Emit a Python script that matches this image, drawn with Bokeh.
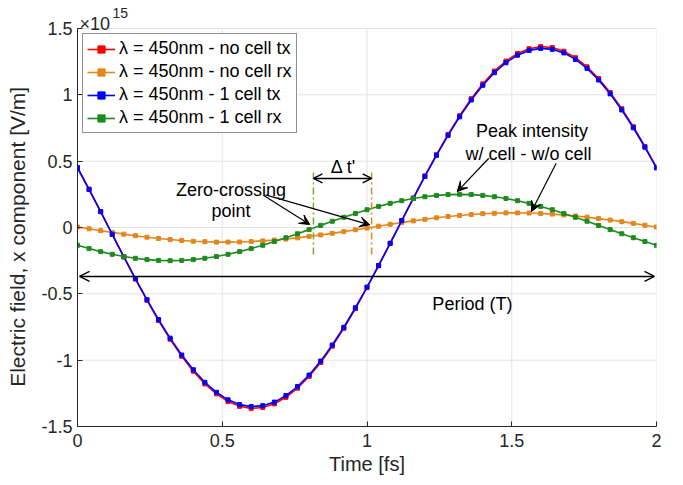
from bokeh.plotting import figure
from bokeh.models import Range1d, Label, Arrow, VeeHead, OpenHead, FixedTicker, Legend, LegendItem
from bokeh.embed import file_html
from bokeh.resources import INLINE
from bokeh.core.properties import value

# ---------------- data (field in units of 1e15 V/m) ----------------
time_fs = [0.00, 0.04, 0.08, 0.12, 0.16, 0.20, 0.24, 0.28, 0.32, 0.36, 0.40, 0.44, 0.48,
           0.52, 0.56, 0.60, 0.64, 0.68, 0.72, 0.76, 0.80, 0.84, 0.88, 0.92, 0.96, 1.00,
           1.04, 1.08, 1.12, 1.16, 1.20, 1.24, 1.28, 1.32, 1.36, 1.40, 1.44, 1.48, 1.52,
           1.56, 1.60, 1.64, 1.68, 1.72, 1.76, 1.80, 1.84, 1.88, 1.92, 1.96, 2.00]

e_nocell_tx = [0.453, 0.289, 0.120, -0.052, -0.222, -0.389, -0.549, -0.701, -0.842, -0.971,
               -1.083, -1.179, -1.254, -1.312, -1.348, -1.364, -1.356, -1.329, -1.280, -1.211,
               -1.123, -1.017, -0.895, -0.760, -0.611, -0.453, -0.289, -0.120, 0.052, 0.222,
               0.389, 0.549, 0.701, 0.842, 0.971, 1.083, 1.179, 1.254, 1.312, 1.348,
               1.364, 1.356, 1.329, 1.280, 1.211, 1.123, 1.017, 0.895, 0.760, 0.611, 0.453]

e_nocell_rx = [0.004, -0.010, -0.024, -0.037, -0.050, -0.062, -0.073, -0.083, -0.091, -0.098,
               -0.104, -0.107, -0.110, -0.110, -0.109, -0.106, -0.101, -0.095, -0.087, -0.078,
               -0.067, -0.056, -0.044, -0.031, -0.017, -0.004, 0.010, 0.024, 0.037, 0.050,
               0.062, 0.073, 0.083, 0.091, 0.098, 0.104, 0.107, 0.110, 0.110, 0.109,
               0.106, 0.101, 0.095, 0.087, 0.078, 0.067, 0.056, 0.044, 0.031, 0.017, 0.004]

e_cell_tx = [0.449, 0.286, 0.119, -0.051, -0.220, -0.385, -0.544, -0.694, -0.834, -0.961,
             -1.072, -1.167, -1.242, -1.299, -1.335, -1.350, -1.343, -1.316, -1.267, -1.199,
             -1.112, -1.007, -0.886, -0.752, -0.605, -0.449, -0.286, -0.119, 0.051, 0.220,
             0.385, 0.544, 0.694, 0.834, 0.961, 1.072, 1.167, 1.242, 1.299, 1.335,
             1.350, 1.343, 1.316, 1.267, 1.199, 1.112, 1.007, 0.886, 0.752, 0.605, 0.449]

e_cell_rx = [-0.134, -0.159, -0.182, -0.202, -0.219, -0.232, -0.242, -0.248, -0.250, -0.248,
             -0.242, -0.232, -0.219, -0.202, -0.182, -0.159, -0.134, -0.106, -0.077, -0.047,
             -0.016, 0.016, 0.047, 0.077, 0.106, 0.134, 0.159, 0.182, 0.202, 0.219,
             0.232, 0.242, 0.248, 0.250, 0.248, 0.242, 0.232, 0.219, 0.202, 0.182,
             0.159, 0.134, 0.106, 0.077, 0.047, 0.016, -0.016, -0.047, -0.077, -0.106, -0.134]

series_labels = ["λ = 450nm - no cell tx", "λ = 450nm - no cell rx",
                 "λ = 450nm - 1 cell tx", "λ = 450nm - 1 cell rx"]

zero_cross_cell = 0.815     # fs, 1 cell rx
zero_cross_nocell = 1.016   # fs, no cell rx

x_ticks = [0, 0.5, 1, 1.5, 2]
x_tick_labels = ["0", "0.5", "1", "1.5", "2"]
y_ticks = [-1.5, -1, -0.5, 0, 0.5, 1, 1.5]
y_tick_labels = ["-1.5", "-1", "-0.5", "0", "0.5", "1", "1.5"]
x_lim = (0, 2)
y_lim = (-1.5, 1.5)

# ---------------- styling ----------------
FONT = "Liberation Sans"
AX = "#262626"
GRID = "#e3e3e3"
colors = ["#ff0000", "#e4861c", "#0000ff", "#1f8a1f"]

# frame extends above the axes box so that the exponent label can sit there
frame_px = 426
box_px = 398
y_top = y_lim[0] + (y_lim[1] - y_lim[0]) * frame_px / box_px

p = figure(width=675, height=477, x_range=Range1d(*x_lim), y_range=Range1d(y_lim[0], y_top),
           output_backend="svg", toolbar_location=None, title=None,
           min_border_left=77, min_border_right=19, min_border_top=0, min_border_bottom=51)
p.outline_line_color = None
p.background_fill_color = "white"
p.border_fill_color = "white"
p.xgrid.visible = False
p.ygrid.visible = False

p.xaxis.ticker = FixedTicker(ticks=x_ticks)
p.yaxis.ticker = FixedTicker(ticks=y_ticks)
p.yaxis.bounds = y_lim
p.xaxis.major_label_overrides = {t: l for t, l in zip(x_ticks, x_tick_labels)}
p.yaxis.major_label_overrides = {t: l for t, l in zip(y_ticks, y_tick_labels)}
p.xaxis.axis_label = "Time [fs]"
# trailing no-break spaces re-centre the label on the axes box (frame is taller)
p.yaxis.axis_label = "Electric field, x component [V/m]" + "\u00a0" * 8
for ax in (p.xaxis[0], p.yaxis[0]):
    ax.axis_line_color = AX
    ax.axis_line_width = 1
    ax.major_tick_line_color = AX
    ax.major_tick_in = 5
    ax.major_tick_out = 0
    ax.minor_tick_line_color = None
    ax.major_label_text_font = FONT
    ax.major_label_text_font_size = "18px"
    ax.major_label_text_color = AX
    ax.axis_label_text_font = FONT
    ax.axis_label_text_font_size = "20px"
    ax.axis_label_text_font_style = "normal"
    ax.axis_label_text_color = AX
p.yaxis.axis_label_text_font_size = "21px"
p.xaxis.major_label_standoff = 7
p.xaxis.axis_label_standoff = 3
p.yaxis.major_label_standoff = 5
p.yaxis.axis_label_standoff = 9

# grid lines limited to the axes box
p.segment(x0=x_ticks, y0=[y_lim[0]] * len(x_ticks), x1=x_ticks, y1=[y_lim[1]] * len(x_ticks),
          line_color=GRID, line_width=1)
p.segment(x0=[x_lim[0]] * len(y_ticks), y0=y_ticks, x1=[x_lim[1]] * len(y_ticks), y1=y_ticks,
          line_color=GRID, line_width=1)

# ---------------- series ----------------
items = []
for ys, col, lab in zip([e_nocell_tx, e_nocell_rx, e_cell_tx, e_cell_rx], colors, series_labels):
    r1 = p.line(time_fs, ys, line_color=col, line_width=1.6)
    r2 = p.scatter(time_fs, ys, marker="square", size=4, fill_color=col, line_color=col)
    items.append(LegendItem(label=lab, renderers=[r1, r2]))

legend = Legend(items=items, location=(5, 293))
legend.label_text_font = FONT
legend.label_text_font_size = "18px"
legend.label_text_color = "black"
legend.glyph_width = 28
legend.glyph_height = 18
legend.label_height = 18
legend.label_standoff = 4
legend.padding = 4
legend.spacing = 2
legend.margin = 0
legend.border_line_color = AX
legend.border_line_width = 1
legend.background_fill_color = "white"
legend.background_fill_alpha = 1
p.add_layout(legend)

# ---------------- annotations ----------------
p.segment(x0=[zero_cross_cell], y0=[0.414], x1=[zero_cross_cell], y1=[-0.211],
          line_color="#77ac30", line_width=1.5, line_dash="7 3 2 3")
p.segment(x0=[zero_cross_nocell], y0=[0.414], x1=[zero_cross_nocell], y1=[-0.211],
          line_color="#e4861c", line_width=1.5, line_dash="7 3 2 3")

# Delta t' arrow
p.add_layout(Arrow(start=OpenHead(size=9, line_width=1.5, line_color="black"),
                   end=OpenHead(size=9, line_width=1.5, line_color="black"),
                   x_start=zero_cross_cell, y_start=0.37, x_end=zero_cross_nocell, y_end=0.37,
                   line_width=1.5, line_color="black"))
# Period arrow
p.add_layout(Arrow(start=OpenHead(size=10, line_width=1.3, line_color="black"),
                   end=OpenHead(size=10, line_width=1.3, line_color="black"),
                   x_start=0.007, y_start=-0.369, x_end=1.993, y_end=-0.369,
                   line_width=1.5, line_color="black"))

arrows = [(0.6435, 0.241, 0.8023, 0.0226), (0.6494, 0.246, 1.0097, 0.0203),
          (1.4207, 0.522, 1.3116, 0.271), (1.6535, 0.485, 1.5682, 0.121)]
for xs, ys, xe, ye in arrows:
    p.add_layout(Arrow(end=VeeHead(size=10, fill_color="black", line_color="black"),
                       x_start=xs, y_start=ys, x_end=xe, y_end=ye,
                       line_width=1.2, line_color="black"))

texts = [(0.530, 0.284, "Zero-crossing"), (0.530, 0.128, "point"),
         (1.570, 0.726, "Peak intensity"), (1.558, 0.555, "w/ cell - w/o cell"),
         (0.919, 0.455, "Δ t'"), (1.364, -0.580, "Period (T)")]
for tx, ty, s in texts:
    p.add_layout(Label(x=tx, y=ty, text=s, text_align="center", text_baseline="alphabetic",
                       text_font=FONT, text_font_size="18px", text_color="black"))

# exponent label (x10^15)
p.add_layout(Label(x=x_lim[0], y=y_lim[1], x_offset=2, y_offset=5, text="×10", text_font=FONT,
                   text_font_size="18px", text_color=AX, text_baseline="alphabetic"))
p.add_layout(Label(x=x_lim[0], y=y_lim[1], x_offset=35, y_offset=16, text="15", text_font=FONT,
                   text_font_size="14px", text_color=AX, text_baseline="alphabetic"))

open("out.html", "w").write(file_html(p, INLINE))
